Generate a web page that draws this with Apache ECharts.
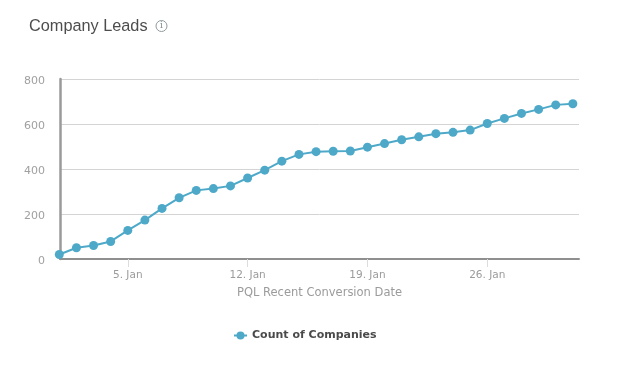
<!DOCTYPE html>
<html><head><meta charset="utf-8">
<style>html,body{margin:0;padding:0;background:#fff}#c{width:619px;height:369px}</style>
<script src="https://cdn.jsdelivr.net/npm/echarts@6/dist/echarts.min.js"></script>
</head><body><div id="c"></div>
<script>
const days = [1,2,3,4,5,6,7,8,9,10,11,12,13,14,15,16,17,18,19,20,21,22,23,24,25,26,27,28,29,30,31];
const companies = [20,50,60,78,127,173,225,272,305,313,325,360,395,435,465,477,479,480,497,513,530,543,557,563,573,602,625,647,665,685,690];
const tickDays = [5,12,19,26];
const yTicks = [0,200,400,600,800];
const seriesName = 'Count of Companies';
const xName = 'PQL Recent Conversion Date';
const chartTitle = 'Company Leads';
const blue = '#4ea9c9';
const labelFont = '"DejaVu Sans"';

const chart = echarts.init(document.getElementById('c'), null, {renderer:'canvas'});
chart.setOption({
  animation:false,
  backgroundColor:'#fff',
  title:{text:chartTitle,left:24,top:14,textStyle:{fontFamily:'"Liberation Sans"',fontSize:16.3,fontWeight:'normal',color:'#4d4d4d'}},
  graphic:[
    {type:'circle',shape:{cx:161.5,cy:26,r:5.5},style:{fill:'none',stroke:'#8f9a9c',lineWidth:1}},
    {type:'text',style:{x:161.5,y:26,text:'i',align:'center',verticalAlign:'middle',fontFamily:'"DejaVu Serif"',fontSize:9,fill:'#7f8a8c'}}
  ],
  legend:{show:true,data:[seriesName],left:228,top:325,itemWidth:13,itemHeight:10,itemGap:5,
    textStyle:{fontFamily:labelFont,fontSize:11,fontWeight:'bold',color:'#4a4a4a'}},
  grid:{left:60,right:40,top:79,bottom:110,containLabel:false},
  xAxis:{type:'value',min:1.04,max:31.36,name:xName,nameLocation:'middle',nameGap:28,
    nameTextStyle:{fontFamily:labelFont,fontSize:11.5,color:'#9b9b9b'},
    splitLine:{show:false},
    axisLine:{show:true,onZero:false,lineStyle:{color:'#8f8f8f',width:2}},
    axisTick:{show:true,length:8,customValues:tickDays,lineStyle:{color:'#dcdcdc',width:1}},
    axisLabel:{customValues:tickDays,margin:11,fontFamily:labelFont,fontSize:10.5,color:'#9b9b9b',
      formatter:v=>v+'. Jan'}},
  yAxis:{type:'value',min:yTicks[0],max:yTicks[yTicks.length-1],interval:200,
    axisLine:{show:true,lineStyle:{color:'#9a9a9a',width:2.5}},
    axisTick:{show:false},
    splitLine:{show:true,lineStyle:{color:'#d4d4d4',width:1}},
    axisLabel:{margin:15,fontFamily:labelFont,fontSize:11,color:'#a0a0a0',
      formatter:'{a|{value}}',rich:{a:{fontFamily:labelFont,fontSize:11,color:'#a0a0a0',padding:[4,0,0,0]}}}},
  series:[{name:seriesName,type:'line',data:days.map((d,i)=>[d,companies[i]]),
    symbol:'circle',symbolSize:9,showSymbol:true,clip:false,
    lineStyle:{color:blue,width:2},itemStyle:{color:blue,borderWidth:0}}]
});
</script></body></html>
